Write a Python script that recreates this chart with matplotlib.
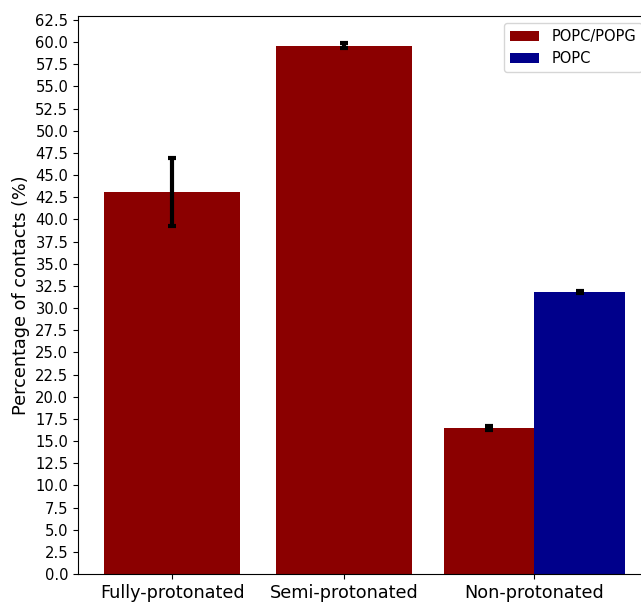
import matplotlib as mpl; mpl.use("Agg")
import matplotlib.pyplot as plt
import numpy as np

categories = ["Fully-protonated", "Semi-protonated", "Non-protonated"]
group_pos = [0.0, 1.0, 2.106]
popc_popg = [43.1, 59.6, 16.5]
popc_popg_err = [3.8, 0.3, 0.2]
popc = [31.8]
popc_err = [0.1]

fig = plt.figure(figsize=(6.41, 6.02), dpi=100)
ax = fig.add_axes([0.1217, 0.0465, 0.8908, 0.9269])

ekw = dict(elinewidth=3, capthick=3, capsize=3, ecolor="black")
half = 0.263

# first two groups are single wide bars, last group is split in two
ax.bar(group_pos[:2], popc_popg[:2], width=0.79, color="darkred", yerr=popc_popg_err[:2],
       error_kw=ekw, label="POPC/POPG")
ax.bar(group_pos[2] - half, popc_popg[2], width=2 * half, color="darkred",
       yerr=popc_popg_err[2], error_kw=ekw)
ax.bar(group_pos[2] + half, popc[0], width=2 * half, color="darkblue", yerr=popc_err[0],
       error_kw=ekw, label="POPC")

ax.set_xticks(group_pos)
ax.set_xticklabels(categories, fontsize=12.7)
ax.set_xlim(-0.547, 2.773)
ax.set_ylim(0, 62.95)
ax.set_yticks(np.arange(0, 63, 2.5))
ax.tick_params(axis="y", labelsize=10.6)
ax.set_ylabel("Percentage of contacts (%)", fontsize=12.7)
ax.legend(loc="upper right", fontsize=10.5)

fig.savefig("out.png", dpi=100)
